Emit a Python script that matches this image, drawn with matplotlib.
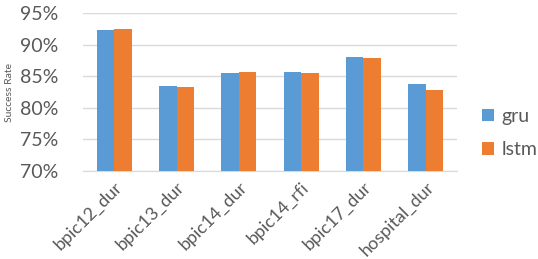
import numpy as np
import matplotlib.pyplot as plt
from matplotlib.ticker import PercentFormatter

categories = ["bpic12_dur", "bpic13_dur", "bpic14_dur", "bpic14_rfi", "bpic17_dur", "hospital_dur"]
gru = [92.25, 83.5, 85.57, 85.63, 88.06, 83.83]
lstm = [92.5, 83.3, 85.73, 85.52, 87.95, 82.83]

plt.rcParams['font.family'] = ['Lato', 'DejaVu Sans']
txt = '#595959'

fig = plt.figure(figsize=(5.38, 2.59), dpi=100)
ax = fig.add_axes([83/538, 1 - 171/259, (457-83)/538, (171-13)/259])

x = np.arange(len(categories))
w = 0.283
ax.bar(x - w/2, gru, w, color='#5B9BD5', label='gru', zorder=3)
ax.bar(x + w/2, lstm, w, color='#ED7D31', label='lstm', zorder=3)

ax.set_ylim(70, 95)
ax.set_xlim(-0.5, len(categories) - 0.5)
ax.set_yticks(np.arange(70, 96, 5))
ax.yaxis.set_major_formatter(PercentFormatter(decimals=0))
ax.grid(axis='y', color='#d9d9d9', linewidth=1, zorder=0)
for s in ['top', 'right', 'left']:
    ax.spines[s].set_visible(False)
ax.spines['bottom'].set_color('#d9d9d9')
ax.tick_params(length=0, colors=txt, labelsize=14)
ax.tick_params(axis='y', pad=18)
ax.set_xticks(x)
ax.set_xticklabels(categories, rotation=45, ha='right', rotation_mode='anchor', fontsize=13)
ax.tick_params(axis='x', pad=6)
ax.set_ylabel('Success Rate', fontsize=7.5, color=txt, labelpad=4)

ax.legend(loc='center left', bbox_to_anchor=(1.02, 0.24), frameon=False,
          fontsize=14, labelcolor=txt, handlelength=0.6, handleheight=0.6,
          handletextpad=0.4, labelspacing=0.85)

fig.savefig('out.png', dpi=100)
